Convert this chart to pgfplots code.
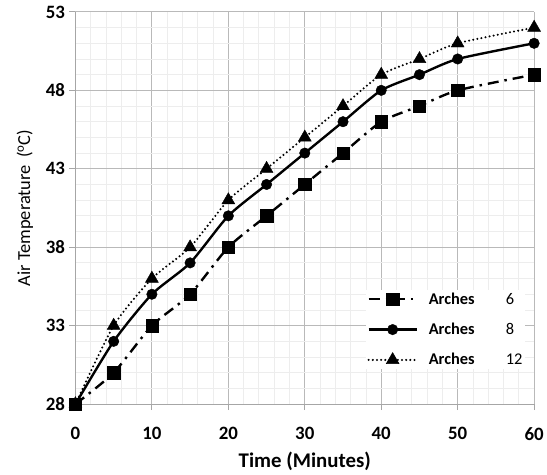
\documentclass[border=0pt]{standalone}
\usepackage{fontspec}
\setmainfont{Carlito}
\usepackage{pgfplots}
\pgfplotsset{compat=1.18}

\begin{document}
\begin{tikzpicture}
	\begin{axis}[
		name=ax,
		scale only axis,
		width=462pt, height=395pt,
		xmin=0, xmax=60,
		ymin=28, ymax=53,
		xtick={0,10,...,60},
		ytick={28,33,...,53},
		minor x tick num=4,
		minor y tick num=4,
		grid=both,
		major grid style={gray!55, line width=0.9pt},
		minor grid style={gray!14, line width=0.9pt},
		axis lines=left,
		axis line style={-, gray!70, line width=0.9pt},
		tick style={gray!70, line width=0.9pt},
		tick align=outside,
		major tick length=6pt,
		minor tick length=0pt,
		/pgf/number format/assume math mode=true,
		ticklabel style={font=\fontsize{19}{21}\selectfont\bfseries},
		xticklabel style={yshift=-14pt},
		yticklabel style={xshift=-1pt},
		xlabel={\textbf{Time (Minutes)}},
		ylabel={Air Temperature\, (\textsuperscript{o}C)},
		xlabel style={font=\fontsize{21}{24}\selectfont, yshift=-5pt},
		ylabel style={font=\fontsize{18.5}{20}\selectfont, yshift=6pt},
		clip=false,
		reverse legend,
		legend style={
			at={(rel axis cs:0.634,0.292)}, anchor=north west,
			draw=none, fill=white,
			font=\fontsize{16.5}{18}\selectfont,
			row sep=13.5pt,
			inner sep=1pt,
		},
		legend cell align=left,
		legend image code/.code={
			\draw[mark repeat=2, mark phase=2] plot coordinates {(0cm,0cm) (0.85cm,0cm) (1.7cm,0cm)};
		},
	]

	% 12 arches
	\addplot[black, line width=2.3pt, line cap=round, dash pattern=on 0pt off 4.2pt, smooth, tension=0.4,
		mark=triangle*, mark size=7.5pt, mark options={solid, line width=0.4pt}]
		coordinates {
			(0,28) (5,33) (10,36) (15,38) (20,41) (25,43) (30,45)
			(35,47) (40,49) (45,50) (50,51) (60,52)
		};
	\addlegendentry{\hspace{9pt}\textbf{Arches}\hspace{1.9em}12}

	% 8 arches
	\addplot[black, line width=2.4pt, smooth, tension=0.4,
		mark=*, mark size=5.3pt, mark options={line width=0.4pt}]
		coordinates {
			(0,28) (5,32) (10,35) (15,37) (20,40) (25,42) (30,44)
			(35,46) (40,48) (45,49) (50,50) (60,51)
		};
	\addlegendentry{\hspace{9pt}\textbf{Arches}\hspace{1.9em}8}

	% 6 arches
	\addplot[black, line width=2.4pt, dash pattern=on 11pt off 6pt on 2.5pt off 6pt, smooth, tension=0.4,
		mark=square*, mark size=6.2pt, mark options={solid, line width=0.4pt}]
		coordinates {
			(0,28) (5,30) (10,33) (15,35) (20,38) (25,40) (30,42)
			(35,44) (40,46) (45,47) (50,48) (60,49)
		};
	\addlegendentry{\hspace{9pt}\textbf{Arches}\hspace{1.9em}6}

	\end{axis}
	\path ([xshift=-76pt,yshift=-67pt]ax.south west) rectangle ([xshift=9pt,yshift=12pt]ax.north east);
\end{tikzpicture}
\end{document}
